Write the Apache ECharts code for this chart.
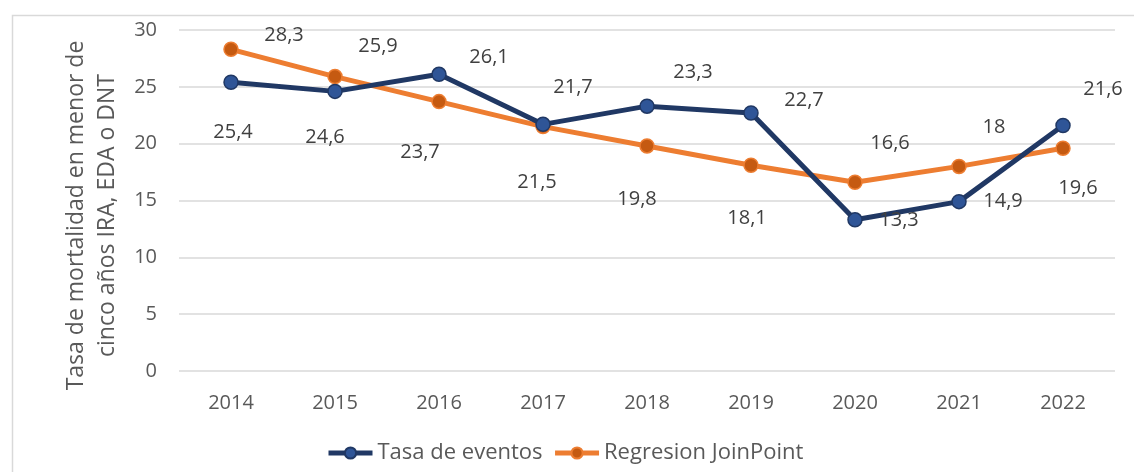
<!DOCTYPE html>
<html><head><meta charset="utf-8">
<script src="https://cdn.jsdelivr.net/npm/echarts@6/dist/echarts.min.js"></script>
<style>html,body{margin:0;padding:0;background:#fff}#c{width:1134px;height:472px}</style>
</head><body><div id="c"></div>
<script>
const years = ['2014','2015','2016','2017','2018','2019','2020','2021','2022'];
const tasaEventos = [25.4, 24.6, 26.1, 21.7, 23.3, 22.7, 13.3, 14.9, 21.6];
const regresion = [28.3, 25.9, 23.7, 21.5, 19.8, 18.1, 16.6, 18.0, 19.6];
const yTicks = [0, 5, 10, 15, 20, 25, 30];
const seriesNames = ['Tasa de eventos', 'Regresion JoinPoint'];
const yTitle = 'Tasa de mortalidad en menor de\ncinco años IRA, EDA o DNT';

// label offsets (layout only)
const offEventos = [[2,50],[-10,46],[50,-17],[30,-37],[46,-34],[53,-13],[44,0],[44,0],[40,-36]];
const offRegresion = [[53,-14],[43,-30],[-19,51],[-6,56],[-10,53],[-4,53],[35,-39],[35,-39],[15,40]];

const fmt = v => String(v).replace('.', ',');
const FONT = '"Open Sans", sans-serif';

function mk(vals, offs) {
  return vals.map((v, i) => ({
    value: v,
    label: { show: true, position: 'inside', offset: offs[i], formatter: p => fmt(p.value),
      color: '#404040', fontSize: 20, fontFamily: FONT }
  }));
}

const chart = echarts.init(document.getElementById('c'), null, {renderer: 'canvas'});
chart.setOption({
  animation: false,
  textStyle: { fontFamily: FONT },
  graphic: [{ type: 'rect', shape: { x: 12.5, y: 15.5, width: 1300, height: 700 },
    style: { fill: 'none', stroke: '#d9d9d9', lineWidth: 1.5 }, silent: true, z: -1 }],
  grid: { left: 179, right: 19, top: 30, bottom: 101 },
  legend: {
    bottom: 3, left: 321, itemGap: 10, itemWidth: 44, itemHeight: 14,
    lineStyle: { width: 5 },
    textStyle: { color: '#595959', fontSize: 22, fontFamily: FONT },
    data: seriesNames
  },
  xAxis: {
    type: 'category', data: years, boundaryGap: true,
    axisLine: { show: false }, axisTick: { show: false },
    axisLabel: { color: '#595959', fontSize: 20, margin: 22, fontFamily: FONT }
  },
  yAxis: {
    type: 'value', min: yTicks[0], max: yTicks[yTicks.length - 1], interval: 5,
    name: yTitle, nameLocation: 'middle', nameRotate: 90, nameGap: 55,
    nameTextStyle: { color: '#595959', fontSize: 23, lineHeight: 31, fontFamily: FONT, align: 'center', padding: [0, 30, 0, 0] },
    axisLine: { show: false }, axisTick: { show: false },
    axisLabel: { color: '#595959', fontSize: 20, margin: 22, fontFamily: FONT },
    splitLine: { lineStyle: { color: '#d9d9d9', width: 1.5 } }
  },
  series: [
    { name: seriesNames[0], type: 'line', data: mk(tasaEventos, offEventos),
      symbol: 'circle', symbolSize: 14,
      lineStyle: { color: '#203864', width: 5 },
      itemStyle: { color: '#2F5597', borderColor: '#203864', borderWidth: 1.5 }, z: 3 },
    { name: seriesNames[1], type: 'line', data: mk(regresion, offRegresion),
      symbol: 'circle', symbolSize: 14,
      lineStyle: { color: '#ED7D31', width: 5 },
      itemStyle: { color: '#C55A11', borderColor: '#ED7D31', borderWidth: 1.5 }, z: 2 }
  ]
});
</script></body></html>
